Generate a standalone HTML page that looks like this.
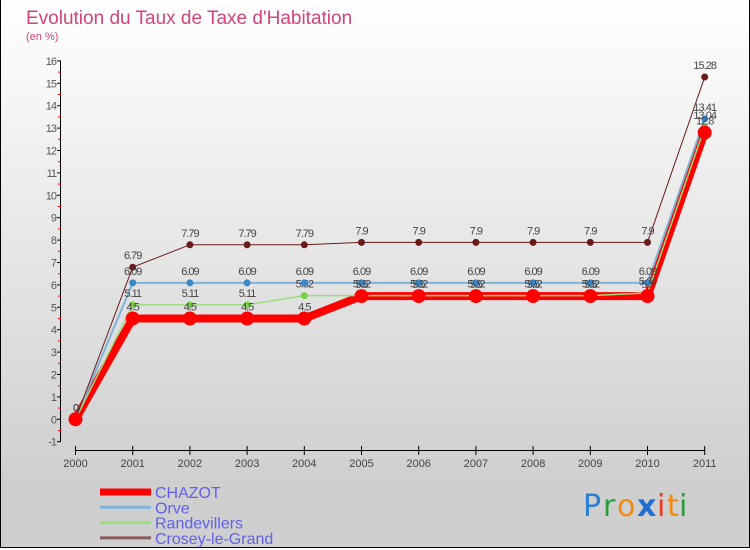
<!DOCTYPE html>
<html><head><meta charset="utf-8">
<style>
body{margin:0;width:750px;height:550px;overflow:hidden;font-family:"Liberation Sans",sans-serif}
#wrap{position:absolute;left:0;top:0;width:748px;height:547px;border:1px solid #000;border-top:none;border-left-width:1px;background:linear-gradient(#ffffff,#cfcfcf 88%,#cfcfcf)}
</style></head><body>
<div id="wrap"></div>
<svg id="chart" width="750" height="550" style="position:absolute;left:0;top:0">
<text x="26" y="24" font-size="19" fill="#d2447a">Evolution du Taux de Taxe d'Habitation</text>
<text x="26" y="40" font-size="11" fill="#d2447a">(en %)</text>
<g id="axes"></g><g id="series"></g><g id="legend"></g>
<g font-size="30" font-family="'DejaVu Sans',sans-serif">
<text x="583" y="516" fill="#2a7fd4">P</text><text x="603" y="516" fill="#2a9d3a">r</text><text x="617" y="516" fill="#f28a12">o</text><text x="637" y="516" fill="#1f6fd0" font-weight="bold">x</text><text x="657" y="516" fill="#e83a1f">i</text><text x="667" y="516" fill="#f28a12">t</text><text x="679" y="516" fill="#2a9d3a">i</text>
</g>
</svg>
<script>
const years=["2000","2001","2002","2003","2004","2005","2006","2007","2008","2009","2010","2011"];
const yTicks=[-1,0,1,2,3,4,5,6,7,8,9,10,11,12,13,14,15,16];
const chazot=[0,4.5,4.5,4.5,4.5,5.5,5.5,5.5,5.5,5.5,5.5,12.8];
const orve=[0,6.09,6.09,6.09,6.09,6.09,6.09,6.09,6.09,6.09,6.09,13.41];
const randevillers=[0,5.11,5.11,5.11,5.52,5.52,5.52,5.52,5.52,5.52,5.64,13.04];
const crosey=[0,6.79,7.79,7.79,7.79,7.9,7.9,7.9,7.9,7.9,7.9,15.28];
const seriesNames=["CHAZOT","Orve","Randevillers","Crosey-le-Grand"];
const NS="http://www.w3.org/2000/svg";
const xS=i=>75.5+i*57.2;
const yS=v=>419.3-v*22.4;
function mk(tag,attrs,parent,txt){const e=document.createElementNS(NS,tag);for(const k in attrs)e.setAttribute(k,attrs[k]);if(txt!==undefined)e.textContent=txt;parent.appendChild(e);return e;}
const axes=document.getElementById('axes');
let e=mk('line',{x1:60.5,y1:yS(16),x2:60.5,y2:yS(-1),stroke:'#000'},axes);

yTicks.forEach(t=>{
 let l=mk('line',{x1:57,x2:61,y1:yS(t),y2:yS(t),stroke:'#000'},axes);
 
 if(t<16){let m=mk('line',{x1:58,x2:61,y1:yS(t+0.5),y2:yS(t+0.5),stroke:'#e00'},axes);
 }
 let tx=mk('text',{x:56,y:yS(t)+4,'font-size':11,fill:'#555','text-anchor':'end','letter-spacing':'-1'},axes,String(t));
 
});
e=mk('line',{x1:xS(0),y1:450.5,x2:xS(11),y2:450.5,stroke:'#000'},axes);

years.forEach((y,i)=>{
 let l=mk('line',{x1:xS(i),x2:xS(i),y1:446,y2:455,stroke:'#000'},axes);
 
 let tx=mk('text',{x:xS(i),y:467,'font-size':11,fill:'#444','text-anchor':'middle'},axes,y);
 
});
const sg=document.getElementById('series');
const defs=[
 {d:crosey,c:'#6b1a1a',w:1,r:3.5,n:'crosey-le-grand'},
 {d:orve,c:'#7fb2d9',w:2,r:3.5,fc:'#3a86c8',n:'orve'},
 {d:randevillers,c:'#9be07a',w:1.5,r:3.5,fc:'#7ad04a',n:'randevillers'},
 {d:chazot,c:'#f00',w:8,r:7,n:'chazot'}];
const order=[3,1,2,0];
order.forEach(k=>{const s=defs[k];
 let p=mk('polyline',{points:s.d.map((v,i)=>xS(i)+','+yS(v)).join(' '),fill:'none',stroke:s.c,'stroke-width':s.w,'stroke-linejoin':'round'},sg);
 
});
[0,2,1,3].forEach(k=>{const s=defs[k];
 s.d.forEach((v,i)=>{
  let c=mk('circle',{cx:xS(i),cy:yS(v),r:s.r,fill:s.fc||s.c},sg);
  
  let t=mk('text',{x:xS(i),y:yS(v)-8,'font-size':11,fill:'#444','text-anchor':'middle','letter-spacing':'-1'},sg,String(v));
  
 });
});
const lg=document.getElementById('legend');
const lc=['#f00','#7fb2d9','#9be07a','#8b5a5a'],lw=[7,3,3,3];
seriesNames.forEach((n,i)=>{const y=492+i*15.3;
 let l=mk('line',{x1:100,x2:151,y1:y,y2:y,stroke:lc[i],'stroke-width':lw[i]},lg);
 
 let t=mk('text',{x:155,y:y+6,'font-size':16,fill:'#6060ee'},lg,n);
 
});
</script>
</body></html>
